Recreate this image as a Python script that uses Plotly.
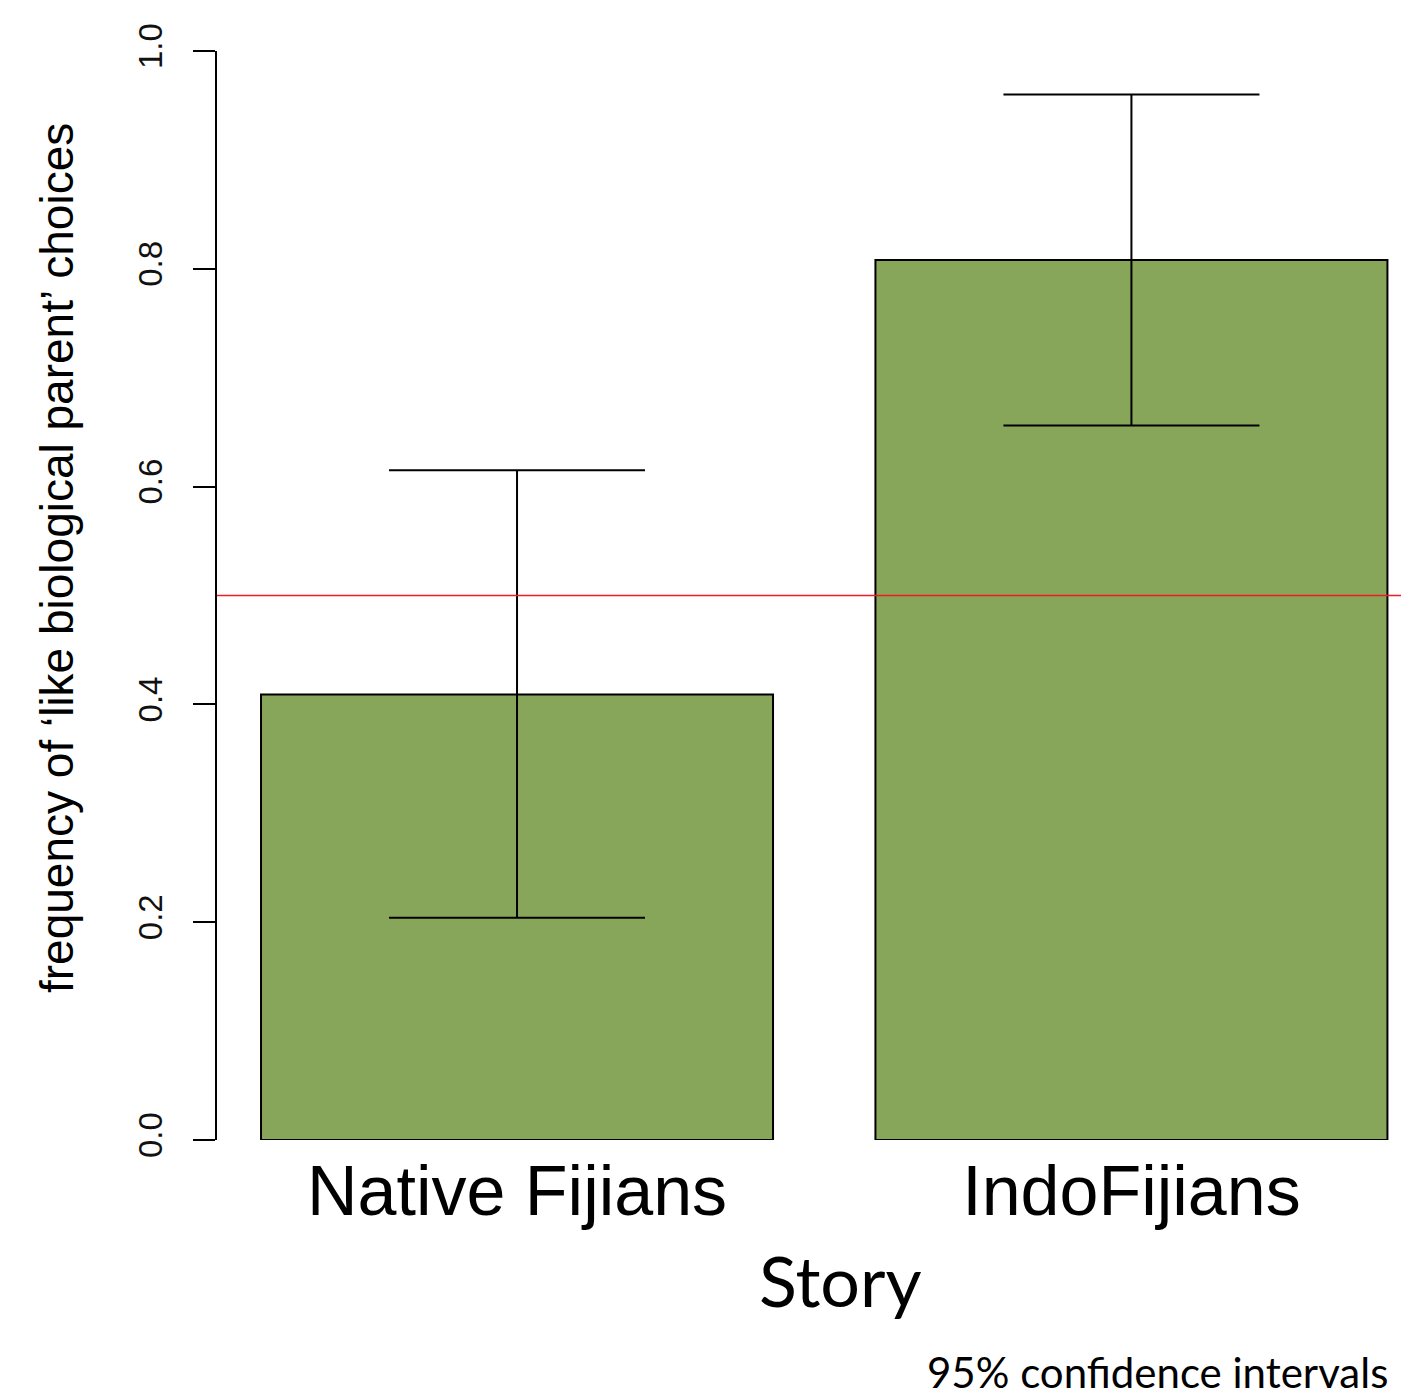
import plotly.graph_objects as go

# Share of "like biological parent" choices per story group, with 95% CIs
groups = ["Native Fijians", "IndoFijians"]
bar_pos = [0.7, 1.9]
freq = [0.409, 0.808]
ci_low = [0.204, 0.656]
ci_high = [0.615, 0.960]
chance_level = 0.5
y_ticks = [0.0, 0.2, 0.4, 0.6, 0.8, 1.0]

err_plus = [h - f for h, f in zip(ci_high, freq)]
err_minus = [f - l for f, l in zip(freq, ci_low)]

arial = "Liberation Sans, Arial, sans-serif"
calibri = "Lato, Open Sans, sans-serif"

fig = go.Figure()
fig.add_trace(go.Bar(
    x=bar_pos,
    y=freq,
    width=1.0,
    marker=dict(color="#88A65A", line=dict(color="black", width=2)),
    error_y=dict(
        type="data",
        symmetric=False,
        array=err_plus,
        arrayminus=err_minus,
        color="black",
        thickness=2,
        width=128,
    ),
    showlegend=False,
    hoverinfo="skip",
))

fig.add_shape(
    type="line", xref="paper", yref="y",
    x0=0, x1=1, y0=chance_level, y1=chance_level,
    line=dict(color="#EE1C25", width=1.6),
    layer="above",
)

fig.update_layout(
    width=1401,
    height=1400,
    margin=dict(l=217, r=0, t=51, b=260),
    paper_bgcolor="white",
    plot_bgcolor="white",
    xaxis=dict(
        range=[0.114, 2.4265],
        tickvals=bar_pos,
        ticktext=groups,
        ticks="",
        showline=False,
        showgrid=False,
        zeroline=False,
        tickfont=dict(family=arial, size=70, color="black"),
        ticklabelstandoff=4,
    ),
    yaxis=dict(
        range=[0, 1],
        tickvals=y_ticks,
        ticktext=[f"{v:.1f}" for v in y_ticks],
        tickangle=-90,
        ticks="outside",
        ticklen=22,
        tickwidth=1.8,
        tickcolor="black",
        showline=True,
        linecolor="black",
        linewidth=1.8,
        showgrid=False,
        zeroline=False,
        tickfont=dict(family=arial, size=33, color="#111111"),
        ticklabelstandoff=18,
    ),
    annotations=[
        dict(
            text="frequency of \u2018like biological parent\u2019 choices",
            xref="paper", yref="paper",
            x=(57 - 217) / 1184, y=(1140 - 558) / 1089,
            xanchor="center", yanchor="middle",
            textangle=-90, showarrow=False,
            font=dict(family=arial, size=46, color="black"),
        ),
        dict(
            text="Story",
            xref="paper", yref="paper",
            x=(841 - 217) / 1184, y=(1140 - 1280) / 1089,
            xanchor="center", yanchor="middle",
            showarrow=False,
            font=dict(family=calibri, size=70, color="black"),
        ),
        dict(
            text="95% confidence intervals",
            xref="paper", yref="paper",
            x=(1390 - 217) / 1184, y=(1140 - 1399) / 1089,
            xanchor="right", yanchor="bottom",
            showarrow=False,
            font=dict(family=calibri, size=42, color="black"),
        ),
    ],
)

fig.write_html("out.html")
